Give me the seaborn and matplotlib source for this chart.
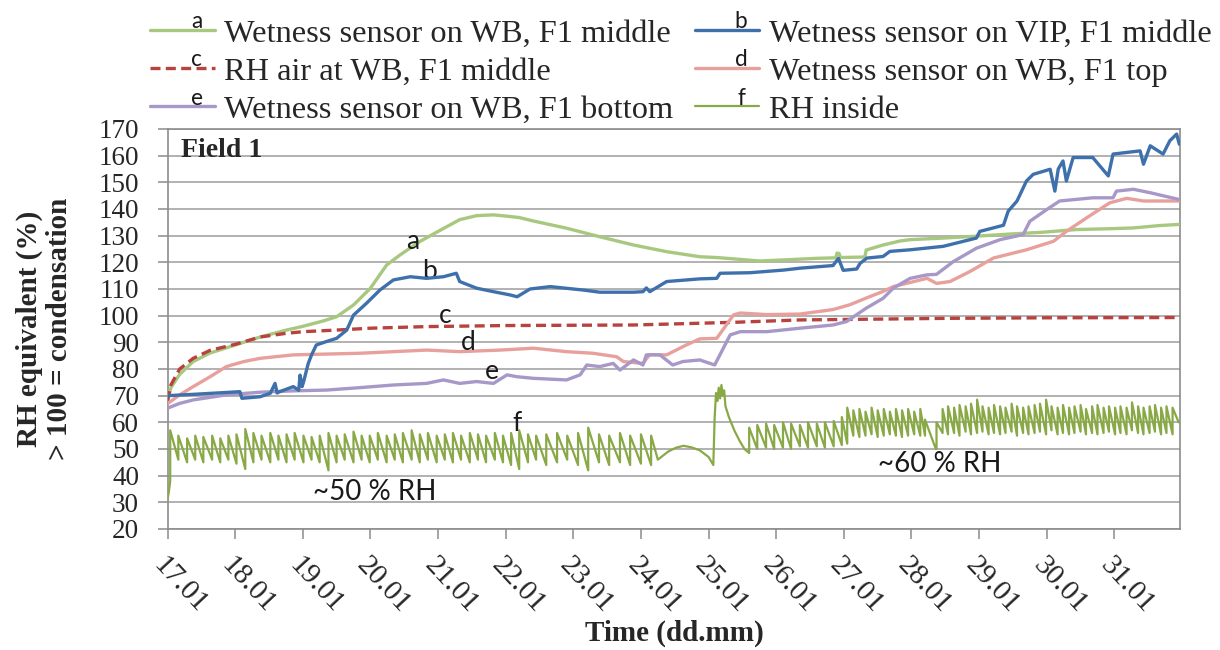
import numpy as np
import pandas as pd
import matplotlib
matplotlib.use("Agg")
import matplotlib.pyplot as plt
import seaborn as sns
from matplotlib.legend_handler import HandlerLine2D
from matplotlib.text import Text

# ---------------- data ----------------
a_days = [17.00, 17.05, 17.18, 17.38, 17.63, 18.00, 18.37, 18.76, 19.00, 19.30, 19.50, 19.75, 20.00, 20.24,
          20.44, 20.73, 21.03, 21.32, 21.57, 21.82, 22.02, 22.20, 22.41, 22.90, 23.39, 23.89, 24.38, 24.87,
          25.12, 25.37, 25.76, 26.11, 26.60, 26.88, 26.90, 26.93, 26.95, 27.31, 27.33, 27.58, 27.83, 27.98,
          28.47, 28.96, 29.45, 29.95, 30.44, 30.93, 31.28, 31.67, 31.95]
a_vals = [68, 73, 78, 82.8, 86, 89, 92, 94.6, 96, 98, 99.6, 104, 110.3, 119,
          122.8, 127.8, 132, 136, 137.5, 137.8, 137.3, 136.8, 135.5, 132.8, 129.6, 126.5, 124, 122.1,
          121.8, 121.3, 120.5, 120.9, 121.5, 121.7, 123.5, 123.3, 121.8, 122, 124.6, 126.5, 128, 128.5,
          129.1, 129.8, 130.6, 131.3, 132.3, 132.6, 132.9, 133.8, 134.2]

b_days = [17.00, 17.38, 17.87, 18.07, 18.10, 18.37, 18.52, 18.59, 18.62, 18.66, 18.86, 18.94, 18.96, 18.99,
          19.01, 19.08, 19.13, 19.20, 19.35, 19.50, 19.65, 19.75, 19.94, 20.14, 20.34, 20.59, 20.83, 21.08,
          21.27, 21.32, 21.57, 21.82, 22.06, 22.17, 22.36, 22.66, 23.15, 23.39, 23.89, 24.03, 24.08, 24.13,
          24.38, 24.87, 25.12, 25.17, 25.61, 26.11, 26.35, 26.84, 26.92, 26.99, 27.19, 27.24, 27.34, 27.58,
          27.68, 27.98, 28.47, 28.96, 29.01, 29.36, 29.43, 29.56, 29.70, 29.80, 30.05, 30.12, 30.17, 30.24,
          30.29, 30.39, 30.68, 30.91, 30.98, 31.18, 31.38, 31.43, 31.53, 31.72, 31.82, 31.92, 31.96]
b_vals = [70, 70.5, 71.2, 71.5, 69, 69.6, 70.9, 74.6, 71, 71.5, 73.4, 72, 77.7, 73.4,
          75, 82, 85.3, 89, 90.3, 91.5, 94.6, 100.2, 104.6, 109.6, 113.4, 114.6, 114, 114.6,
          115.9, 112.8, 110.3, 109, 107.8, 107.1, 110, 110.9, 109.6, 108.8, 108.8, 109, 110.4, 109,
          112.8, 113.8, 114, 115.9, 116.1, 117.1, 117.8, 118.8, 121.5, 117, 117.5, 119.6, 121.6, 122.2,
          124.1, 124.7, 126, 129.1, 131.6, 133.9, 139.2, 143, 150.5, 153, 154.9, 146.7, 155, 158,
          150.5, 159.3, 159.3, 152.4, 160.6, 161.2, 161.8, 156.8, 163.7, 160.6, 165.6, 168.1, 164.3]

c_days = [17.00, 17.05, 17.18, 17.38, 17.63, 18.01, 18.37, 18.76, 19.01, 19.50, 20.00, 20.83, 22.02,
          23.89, 25.37, 26.35, 27.83, 28.50, 30.00, 31.95]
c_vals = [68, 74, 80, 84, 87, 89.3, 92, 93.4, 94, 94.6, 95.3, 95.9, 96.3,
          96.5, 97.5, 98.4, 98.8, 99, 99.2, 99.3]

d_days = [17.00, 17.18, 17.38, 17.63, 17.87, 18.13, 18.37, 18.86, 19.35, 19.84, 20.34, 20.83, 21.32,
          21.92, 22.41, 22.90, 23.29, 23.64, 23.74, 24.03, 24.13, 24.38, 24.67, 24.87, 25.12, 25.37,
          25.47, 25.86, 26.35, 26.84, 27.09, 27.33, 27.58, 27.73, 28.23, 28.37, 28.57, 28.86, 29.21,
          29.70, 30.10, 30.29, 30.59, 30.93, 31.18, 31.43, 31.67, 31.95]
d_vals = [67, 70.3, 73.4, 77.1, 80.9, 82.8, 84, 85.3, 85.6, 85.9, 86.5, 87.1, 86.5,
          87.1, 87.8, 86.5, 85.9, 84.6, 82.8, 82.1, 85.4, 85.3, 89, 91.3, 91.5, 100.3,
          101, 100.4, 100.6, 102.3, 104.1, 106.6, 109.1, 110.9, 114, 112.1, 112.8, 116.5, 121.6,
          124.7, 127.9, 131.6, 136.7, 142.3, 144, 143, 143, 143]

e_days = [17.00, 17.18, 17.38, 17.87, 18.37, 18.86, 19.35, 19.84, 20.34, 20.83, 21.08, 21.32, 21.57,
          21.82, 22.02, 22.17, 22.41, 22.90, 23.10, 23.20, 23.39, 23.59, 23.69, 23.89, 24.03, 24.08,
          24.28, 24.47, 24.62, 24.87, 25.09, 25.32, 25.47, 25.86, 26.35, 26.84, 27.04, 27.33, 27.58,
          27.73, 27.98, 28.23, 28.37, 28.62, 28.96, 29.31, 29.65, 29.75, 30.00, 30.19, 30.68, 30.98,
          31.03, 31.28, 31.53, 31.95]
e_vals = [65.3, 67.1, 68.4, 70.3, 71.3, 71.8, 72.1, 73, 74, 74.6, 75.9, 74.6, 75.3,
          74.6, 77.8, 77.1, 76.5, 75.9, 77.8, 81.5, 80.9, 82.1, 79.6, 83.4, 81.5, 85.3,
          85.3, 81.5, 82.8, 83.4, 81.5, 92.8, 94, 94, 95.3, 96.5, 97.8, 102.8, 106.5,
          110.3, 114, 115.3, 115.5, 120.3, 125.3, 128.5, 130.4, 135.4, 139.8, 143, 144.2, 144.2,
          146.7, 147.4, 146.1, 143.6]

# RH inside: humidifier cycles (each cycle: low value then sharp rise to peak)
f_cycle_days = [17.04, 17.16, 17.29, 17.41, 17.53, 17.66, 17.78, 17.90, 18.02, 18.15, 18.27, 18.39, 18.52,
                18.64, 18.76, 18.88, 19.01, 19.13, 19.25, 19.38, 19.50, 19.62, 19.75, 19.87, 19.99, 20.11,
                20.24, 20.36, 20.48, 20.61, 20.73, 20.85, 20.98, 21.10, 21.22, 21.34, 21.47, 21.59, 21.71,
                21.84, 21.96, 22.08, 22.20, 22.33, 22.45, 22.60, 22.76, 22.91, 23.07, 23.22, 23.38, 23.53,
                23.69, 23.84, 24.00, 24.15,
                25.60, 25.72, 25.85, 25.97, 26.10, 26.22, 26.35, 26.47, 26.60, 26.72, 26.85, 26.97,
                27.05, 27.14, 27.23, 27.32, 27.41, 27.50, 27.59, 27.68, 27.77, 27.86, 27.95, 28.04, 28.13, 28.20,
                28.37, 28.46, 28.54, 28.63, 28.71, 28.80, 28.88, 28.97, 29.05, 29.14, 29.22, 29.31, 29.39,
                29.48, 29.56, 29.65, 29.73, 29.82, 29.90, 29.99, 30.07, 30.16, 30.24, 30.33, 30.41, 30.50,
                30.58, 30.67, 30.75, 30.84, 30.92, 31.01, 31.09, 31.18, 31.26, 31.35, 31.43, 31.52, 31.60,
                31.69, 31.77, 31.86]
f_cycle_low = [38, 46, 45, 46, 45, 46, 45, 46, 44.5, 42.5, 45, 46, 45,
               46, 45, 46, 45, 46, 45, 42, 45, 46, 45, 46, 45, 46,
               45, 46, 45, 46, 45, 46, 45, 46, 45, 46, 45, 46, 45,
               46, 45, 44, 42.5, 45, 46, 44, 45, 46, 44, 42, 45, 44,
               45, 44, 44.5, 44,
               48.5, 50, 50.5, 50, 50.5, 50, 51, 50.5, 51, 50.5, 51, 51.5,
               52, 55, 54.5, 55, 55.5, 54.5, 55, 55.5, 55, 54.5, 55, 55.5, 55, 55,
               50, 56, 55.5, 56, 55, 56.5, 55.5, 56, 56.5, 55.5, 56, 55.5, 56,
               56.5, 55, 56, 55.5, 56, 56.5, 55.5, 57, 55.5, 56, 55.5, 56, 56.5,
               55.5, 56, 55.5, 56, 56.5, 55.5, 56, 55.5, 57, 56, 55.5, 56, 56.5,
               55.5, 56, 55.5]
f_cycle_high = [57, 55, 54, 55, 54.5, 55, 54, 55, 55.5, 57.5, 56, 55, 56,
                55, 55.5, 56, 55, 54.5, 55, 56, 55, 55.5, 56.5, 55, 55, 56,
                55, 55.5, 56, 57, 55.5, 56, 55, 55.5, 56, 55, 56, 55.5, 55,
                56, 55, 56, 57, 55.5, 55, 55.5, 56, 55, 56, 58, 55.5, 55,
                56, 55, 55.5, 55,
                58, 59, 59.5, 59, 60, 59.5, 59, 60, 59.5, 60, 60.5, 62,
                65.5, 64.5, 65, 64, 65.5, 64.5, 65, 64, 65, 64.5, 65, 64, 65, 61,
                60, 65, 66, 65.5, 66.5, 66, 67, 68.5, 66, 65.5, 66.5, 66, 65.5,
                67, 66, 65.5, 66, 66.5, 67, 68.5, 66, 65.5, 66.5, 65.5, 66, 66.5,
                65, 66, 66.5, 65.5, 66, 65.5, 66, 65.5, 67.5, 66, 65.5, 66, 66.5,
                65.5, 66, 65.5]
# RH inside: non-cyclic parts (start, pause hump, spike, dip, end)
f_extra_days = [17.00, 17.02, 24.25, 24.40, 24.52, 24.63, 24.75, 24.87, 25.00, 25.07, 25.09, 25.11, 25.13,
                25.15, 25.17, 25.19, 25.21, 25.23, 25.25, 25.30, 25.38, 25.46, 25.53, 28.36, 31.95]
f_extra_vals = [31, 34, 46, 49, 50.5, 51.2, 50.6, 49.5, 47, 44, 62, 71, 68,
                73, 69, 74, 70, 72, 66, 62, 57, 53, 50, 50, 60]

x_tick_days = list(range(17, 32))
x_tick_labels = [f"{d}.01" for d in x_tick_days]
y_ticks = list(range(20, 171, 10))

labels = {
    "a": "Wetness sensor on WB, F1 middle",
    "b": "Wetness sensor on VIP, F1 middle",
    "c": "RH air at WB, F1 middle",
    "d": "Wetness sensor on WB, F1 top",
    "e": "Wetness sensor on WB, F1 bottom",
    "f": "RH inside",
}
colors = {"a": "#A8C880", "b": "#3E70AC", "c": "#B8423E", "d": "#E8A09C", "e": "#A798C8", "f": "#88A946"}

# ---------------- build frames ----------------
def frame(days, vals):
    return pd.DataFrame({"day": days, "val": vals})

f_x = list(np.repeat(f_cycle_days, 2)) + f_extra_days
f_y = list(np.column_stack([f_cycle_low, f_cycle_high]).ravel()) + f_extra_vals
f_df = frame(f_x, f_y).sort_values("day", kind="stable").reset_index(drop=True)

series = {
    "f": f_df,
    "a": frame(a_days, a_vals),
    "c": frame(c_days, c_vals),
    "d": frame(d_days, d_vals),
    "e": frame(e_days, e_vals),
    "b": frame(b_days, b_vals),
}

# ---------------- style ----------------
sns.set_style("white")
plt.rcParams["font.family"] = ["Liberation Serif", "DejaVu Serif"]
plt.rcParams["axes.unicode_minus"] = False

fig = plt.figure(figsize=(12.2, 6.5), dpi=100)
ax = fig.add_axes([167.5 / 1220, 1 - 529 / 650, (1180 - 167.5) / 1220, 400 / 650])

widths = {"a": 2.4, "b": 2.4, "c": 2.4, "d": 2.4, "e": 2.4, "f": 1.6}
handles = {}
for key, df in series.items():
    ls = (0, (3.0, 1.6)) if key == "c" else "-"
    sns.lineplot(data=df, x="day", y="val", ax=ax, estimator=None, sort=False,
                 color=colors[key], linewidth=widths[key], linestyle=ls, label=labels[key],
                 legend=False, zorder=3 if key != "b" else 4)
    handles[key] = ax.lines[-1]

ax.set_xlim(17, 31.97)
ax.set_ylim(20, 170)
ax.set_yticks(y_ticks)
ax.set_xticks(x_tick_days)
ax.set_xticklabels(x_tick_labels, rotation=-47, ha="left", va="top", rotation_mode="anchor")
ax.grid(axis="y", color="#9c9c9c", linewidth=1.1)
ax.set_axisbelow(True)
for s in ["left", "bottom", "right", "top"]:
    ax.spines[s].set_visible(True)
    ax.spines[s].set_color("#8c8c8c")
    ax.spines[s].set_linewidth(1.2)
ax.tick_params(axis="x", direction="out", length=7.5, width=1.1, color="#8c8c8c",
               labelsize=21, pad=9, bottom=True)
ax.tick_params(axis="y", direction="out", length=7.5, width=1.1, color="#8c8c8c",
               labelsize=19.5, pad=13, left=True)
ax.set_xlabel("")
ax.set_ylabel("")

fig.text(674 / 1220, 1 - 633 / 650, "Time (dd.mm)", ha="center", va="center",
         fontsize=21, fontweight="bold")
fig.text(44 / 1220, 1 - 329 / 650, "RH equivalent (%)\n> 100 = condensation", ha="center",
         va="center", rotation=90, fontsize=21, fontweight="bold", multialignment="center",
         linespacing=1.15)
ax.text(0.013, 0.978, "Field 1", transform=ax.transAxes, ha="left", va="top",
        fontsize=20, fontweight="bold")

# letter annotations on the curves
ann_font = dict(family=["Lato", "DejaVu Sans"], fontsize=19, color="#1a1a1a", ha="center", va="center")
letter_pos = {"a": (20.63, 127.8), "b": (20.88, 116.4), "c": (21.10, 100.2),
              "d": (21.44, 90.1), "e": (21.80, 78.9), "f": (22.17, 59.5)}
for k, (xx, yy) in letter_pos.items():
    ax.text(xx, yy, k, **ann_font)
ax.text(20.06, 34.0, "~50 % RH", **{**ann_font, "fontsize": 20})
ax.text(28.42, 44.5, "~60 % RH", **{**ann_font, "fontsize": 20})


class LetterHandler(HandlerLine2D):
    def __init__(self, letter, **kw):
        super().__init__(**kw)
        self.letter = letter

    def create_artists(self, legend, orig_handle, xdescent, ydescent, width, height, fontsize, trans):
        arts = super().create_artists(legend, orig_handle, xdescent, ydescent, width, height, fontsize, trans)
        ymid = height / 2 - ydescent
        t = Text(-xdescent + width * 0.72, ymid - 1.5, self.letter, ha="center", va="bottom",
                 fontsize=fontsize * 0.7, family=["Lato", "DejaVu Sans"], color="#1a1a1a",
                 transform=trans)
        arts.append(t)
        return arts


order = ["a", "c", "e", "b", "d", "f"]
leg = fig.legend([handles[k] for k in order], [labels[k] for k in order],
                 handler_map={handles[k]: LetterHandler(k) for k in order},
                 ncol=2, loc="upper left", bbox_to_anchor=(150 / 1220, 1 - 19 / 650),
                 bbox_transform=fig.transFigure, frameon=False, borderpad=0, borderaxespad=0,
                 handlelength=2.0, handletextpad=0.3, columnspacing=0.65, labelspacing=0.26,
                 prop={"family": "Liberation Serif", "size": 23.3})

fig.savefig("out.png", dpi=100)
